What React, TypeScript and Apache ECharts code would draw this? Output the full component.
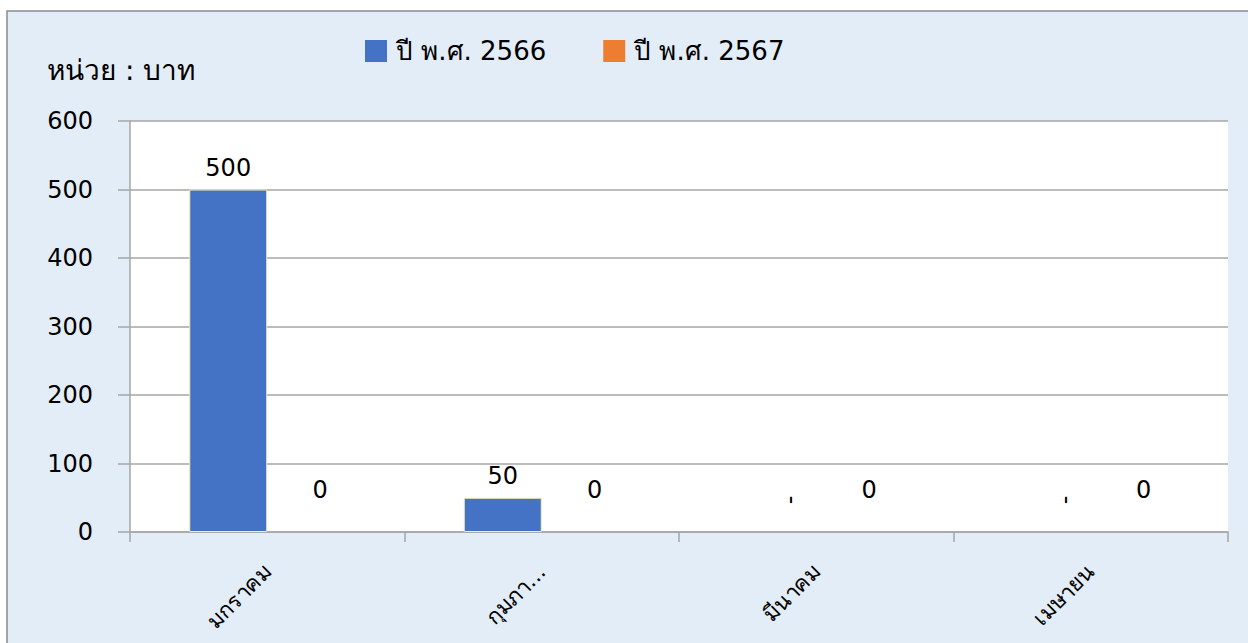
import React, { useEffect, useRef } from "react";
import * as echarts from "echarts";

const categories = ["มกราคม", "กุมภาพันธ์", "มีนาคม", "เมษายน"];
const series2566 = [500, 50, 0, 0];
const series2567 = [0, 0, 0, 0];
const seriesNames = ["ปี พ.ศ. 2566", "ปี พ.ศ. 2567"];
const unitLabel = "หน่วย : บาท";
const yTicks = { min: 0, max: 600, interval: 100 };

const FONT = "'DejaVu Sans', 'Noto Sans', sans-serif";

export default function App() {
  const ref = useRef<HTMLDivElement>(null);
  useEffect(() => {
    document.body.style.margin = "0";
    const chart = echarts.init(ref.current!, undefined, { renderer: "svg" });
    const blueData = series2566.map((v) =>
      v === 0
        ? {
            value: v,
            itemStyle: { borderWidth: 0 },
            label: {
              show: true,
              formatter: "-",
              rotate: 90,
              offset: [22, 25],
            },
          }
        : { value: v }
    );
    chart.setOption({
      animation: false,
      textStyle: { fontFamily: FONT },
      graphic: [
        {
          type: "rect",
          z: -10,
          shape: { x: 7, y: 11, width: 1300, height: 700 },
          style: { fill: "#E3EDF7", stroke: "#8c8c8c", lineWidth: 1.5 },
        },
        {
          type: "text",
          left: 47,
          top: 56,
          style: { text: unitLabel, fontSize: 28, fill: "#000", fontFamily: FONT },
        },
      ],
      legend: {
        left: 365,
        top: 38,
        padding: 0,
        itemWidth: 22,
        itemHeight: 22,
        itemGap: 57,
        icon: "rect",
        itemStyle: { borderWidth: 0 },
        textStyle: { fontSize: 26, color: "#000", fontFamily: FONT, padding: [0, 0, 0, 4] },
        data: seriesNames,
      },
      grid: {
        left: 130,
        right: 20,
        top: 121,
        bottom: 111,
        show: true,
        backgroundColor: "#ffffff",
        borderWidth: 0,
      },
      xAxis: {
        type: "category",
        data: categories,
        axisLine: { lineStyle: { color: "#a6a6a6", width: 1.5 } },
        axisTick: { show: true, length: 10, lineStyle: { color: "#a6a6a6", width: 1.5 } },
        axisLabel: {
          rotate: 45,
          fontSize: 22,
          color: "#000",
          margin: 36,
          fontFamily: FONT,
          formatter: (v: string) => (v.length > 8 ? v.slice(0, 5) + "..." : v),
        },
      },
      yAxis: {
        type: "value",
        min: yTicks.min,
        max: yTicks.max,
        interval: yTicks.interval,
        axisLine: { show: true, lineStyle: { color: "#a6a6a6", width: 1.5 } },
        axisTick: { show: true, length: 12, lineStyle: { color: "#a6a6a6", width: 1.5 } },
        axisLabel: { fontSize: 24, color: "#000", margin: 37, fontFamily: FONT },
        splitLine: { lineStyle: { color: "#a6a6a6", width: 1.5 } },
      },
      series: [
        {
          name: seriesNames[0],
          type: "bar",
          data: blueData,
          barWidth: 78,
          barGap: "0%",
          itemStyle: { color: "#4472C4", borderColor: "#f3f0b0", borderWidth: 1 },
          label: {
            show: true,
            position: "top",
            distance: 10,
            fontSize: 24,
            color: "#000",
            fontFamily: FONT,
          },
        },
        {
          name: seriesNames[1],
          type: "bar",
          data: series2567,
          barWidth: 78,
          itemStyle: { color: "#ED7D31" },
          label: {
            show: true,
            position: "top",
            distance: 6,
            offset: [14, -24],
            fontSize: 24,
            color: "#000",
            fontFamily: FONT,
          },
        },
      ],
    });
    return () => chart.dispose();
  }, []);
  return <div ref={ref} style={{ width: 1248, height: 643 }} />;
}
